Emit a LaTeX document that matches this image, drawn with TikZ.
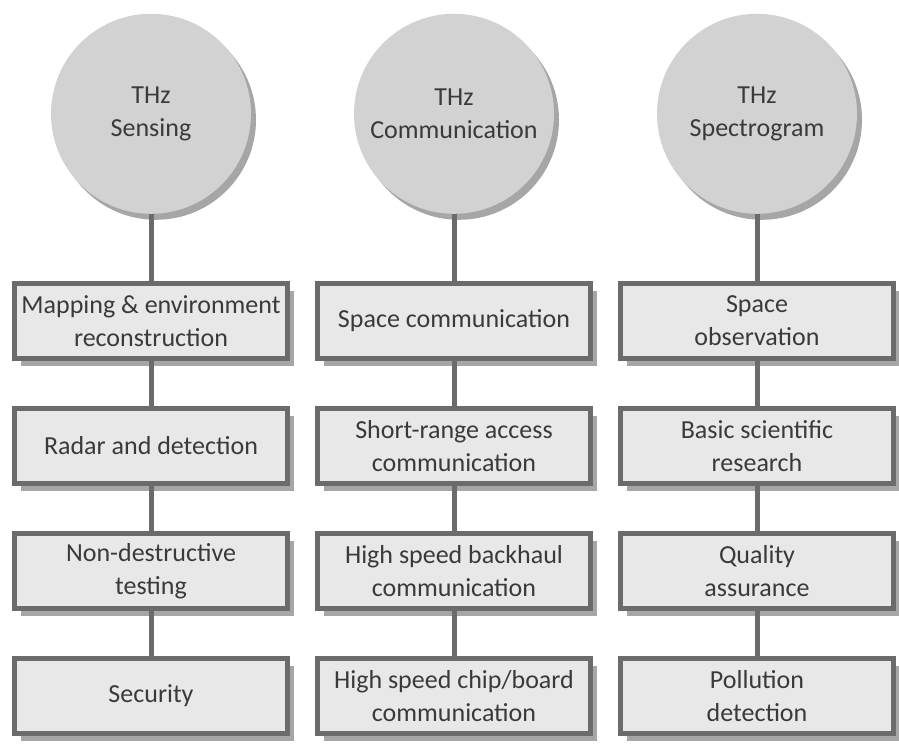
\documentclass[tikz,border=0pt]{standalone}
\usepackage{fontspec}
\setmainfont{Carlito}
\usetikzlibrary{positioning,shadows}
\definecolor{Slate}{HTML}{6B6B6B}
\definecolor{Ash}{HTML}{D2D2D2}
\definecolor{Mist}{HTML}{E8E8E8}
\definecolor{Ink}{HTML}{3A3A3A}
\colorlet{thzEdge}{Slate}
\colorlet{thzHub}{Ash}
\colorlet{thzBox}{Mist}

\begin{document}
\begin{tikzpicture}[x=1pt,y=1pt,
 node distance=45pt and 25pt,
 hub/.style={circle,fill=thzHub,minimum size=200pt,align=center,text=Ink,
   font=\fontsize{26}{33}\selectfont,
   drop shadow={shadow xshift=5pt,shadow yshift=-6pt,fill=black,opacity=.35}},
 box/.style={draw=thzEdge,line width=5pt,fill=thzBox,minimum width=273pt,
   minimum height=75pt,align=center,text=Ink,font=\fontsize{26}{33}\selectfont,
   drop shadow={shadow xshift=6pt,shadow yshift=-7pt,fill=black,opacity=.35}},
 link/.style={thzEdge,line width=5pt}]
 \useasboundingbox (0,0) rectangle (899,-751);
 \node[box] (map) at (151,-321) {Mapping \& environment\\reconstruction};
 \node[box,below=of map] (radar) {Radar and detection};
 \node[box,below=of radar] (ndt) {Non-destructive\\testing};
 \node[box,below=of ndt] (sec) {Security};
 \node[box,right=of map] (space) {Space communication};
 \node[box,right=of radar] (short) {Short-range access\\communication};
 \node[box,right=of ndt] (backhaul) {High speed backhaul\\communication};
 \node[box,right=of sec] (chip) {High speed chip/board\\communication};
 \node[box,right=of space] (obs) {Space\\observation};
 \node[box,right=of short] (basic) {Basic scientific\\research};
 \node[box,right=of backhaul] (qa) {Quality\\assurance};
 \node[box,right=of chip] (poll) {Pollution\\detection};
 \node[hub,above=67pt of map] (sens) {THz\\Sensing};
 \node[hub,above=67pt of space] (comm) {THz\\Communication};
 \node[hub,above=67pt of obs] (spec) {THz\\Spectrogram};
 \draw[link] (sens)--(map) (map)--(radar) (radar)--(ndt) (ndt)--(sec);
 \draw[link] (comm)--(space) (space)--(short) (short)--(backhaul) (backhaul)--(chip);
 \draw[link] (spec)--(obs) (obs)--(basic) (basic)--(qa) (qa)--(poll);
\end{tikzpicture}
\end{document}
